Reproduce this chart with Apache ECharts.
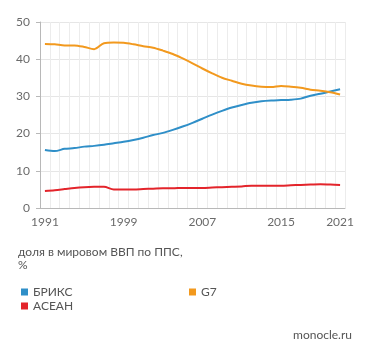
<!DOCTYPE html>
<html><head><meta charset="utf-8">
<script src="https://cdn.jsdelivr.net/npm/echarts@6/dist/echarts.min.js"></script>
<style>html,body{margin:0;padding:0;background:#fff}#c{width:371px;height:356px}</style>
</head><body><div id="c"></div>
<script>
const years = [];
for (let y = 1991; y <= 2021; y++) years.push(String(y));
const shownYears = ['1991','1999','2007','2015','2021'];
const yTicks = [0, 10, 20, 30, 40, 50];
const brics = [15.6,15.3,15.9,16.1,16.5,16.7,17.0,17.4,17.8,18.3,18.9,19.6,20.2,21.0,21.9,22.9,24.0,25.1,26.1,27.0,27.7,28.3,28.7,28.9,29.0,29.1,29.4,30.2,30.7,31.3,31.9];
const g7 = [44.1,44.0,43.7,43.7,43.3,42.7,44.3,44.5,44.4,44.0,43.5,43.1,42.3,41.4,40.2,38.9,37.5,36.2,35.0,34.2,33.4,32.9,32.6,32.5,32.8,32.6,32.3,31.8,31.5,31.1,30.5];
const asean = [4.6,4.8,5.1,5.4,5.6,5.7,5.7,5.0,5.0,5.0,5.1,5.2,5.3,5.3,5.4,5.4,5.4,5.5,5.6,5.7,5.8,6.0,6.0,6.0,6.0,6.1,6.2,6.3,6.4,6.3,6.2];
const subtitle = 'доля в мировом ВВП по ППС,\n%';
const source = 'monocle.ru';

const chart = echarts.init(document.getElementById('c'), null, {renderer: 'canvas'});
const font = 'Lato, "Open Sans", sans-serif';
chart.setOption({
  animation: false,
  textStyle: {fontFamily: font},
  grid: {left: 40, right: 26, top: 22, bottom: 148},
  xAxis: {
    type: 'category', data: years, boundaryGap: true,
    axisLine: {lineStyle: {color: '#b8b8b8'}},
    axisTick: {show: false},
    axisLabel: {color: '#6a6a6a', fontSize: 12, fontFamily: font, margin: 8,
      interval: (i, v) => shownYears.indexOf(v) >= 0},
    splitLine: {show: true, interval: 0, lineStyle: {color: '#ececec', width: 1}}
  },
  yAxis: {
    type: 'value', min: yTicks[0], max: yTicks[yTicks.length - 1], interval: 10,
    axisLine: {show: true, lineStyle: {color: '#b8b8b8'}},
    axisTick: {show: true, length: 4, lineStyle: {color: '#b8b8b8'}},
    axisLabel: {color: '#6a6a6a', fontSize: 12, fontFamily: font, margin: 10},
    splitLine: {lineStyle: {color: '#e6e6e6'}}
  },
  legend: [
    {data: ['БРИКС', 'АСЕАН'], orient: 'vertical', left: 16, top: 281, icon: 'rect', padding: [5, 5],
     itemWidth: 7, itemHeight: 7, itemGap: 2, textStyle: {color: '#555', fontSize: 12, fontFamily: font}},
    {data: ['G7'], orient: 'vertical', left: 184, top: 281, icon: 'rect', padding: [5, 5],
     itemWidth: 7, itemHeight: 7, textStyle: {color: '#555', fontSize: 12, fontFamily: font}}
  ],
  graphic: [
    {type: 'text', left: 18, top: 246, style: {text: subtitle, fill: '#555', font: '12px ' + font, lineHeight: 13}},
    {type: 'text', right: 19, top: 329, style: {text: source, fill: '#555', font: '12px ' + font}}
  ],
  series: [
    {name: 'БРИКС', type: 'line', data: brics, smooth: 0.3, symbol: 'none', itemStyle: {color: '#2f8fc8'}, lineStyle: {width: 2}},
    {name: 'G7', type: 'line', data: g7, smooth: 0.3, symbol: 'none', itemStyle: {color: '#f2991e'}, lineStyle: {width: 2}},
    {name: 'АСЕАН', type: 'line', data: asean, smooth: 0.3, symbol: 'none', itemStyle: {color: '#e3242b'}, lineStyle: {width: 2}}
  ]
});
</script></body></html>
